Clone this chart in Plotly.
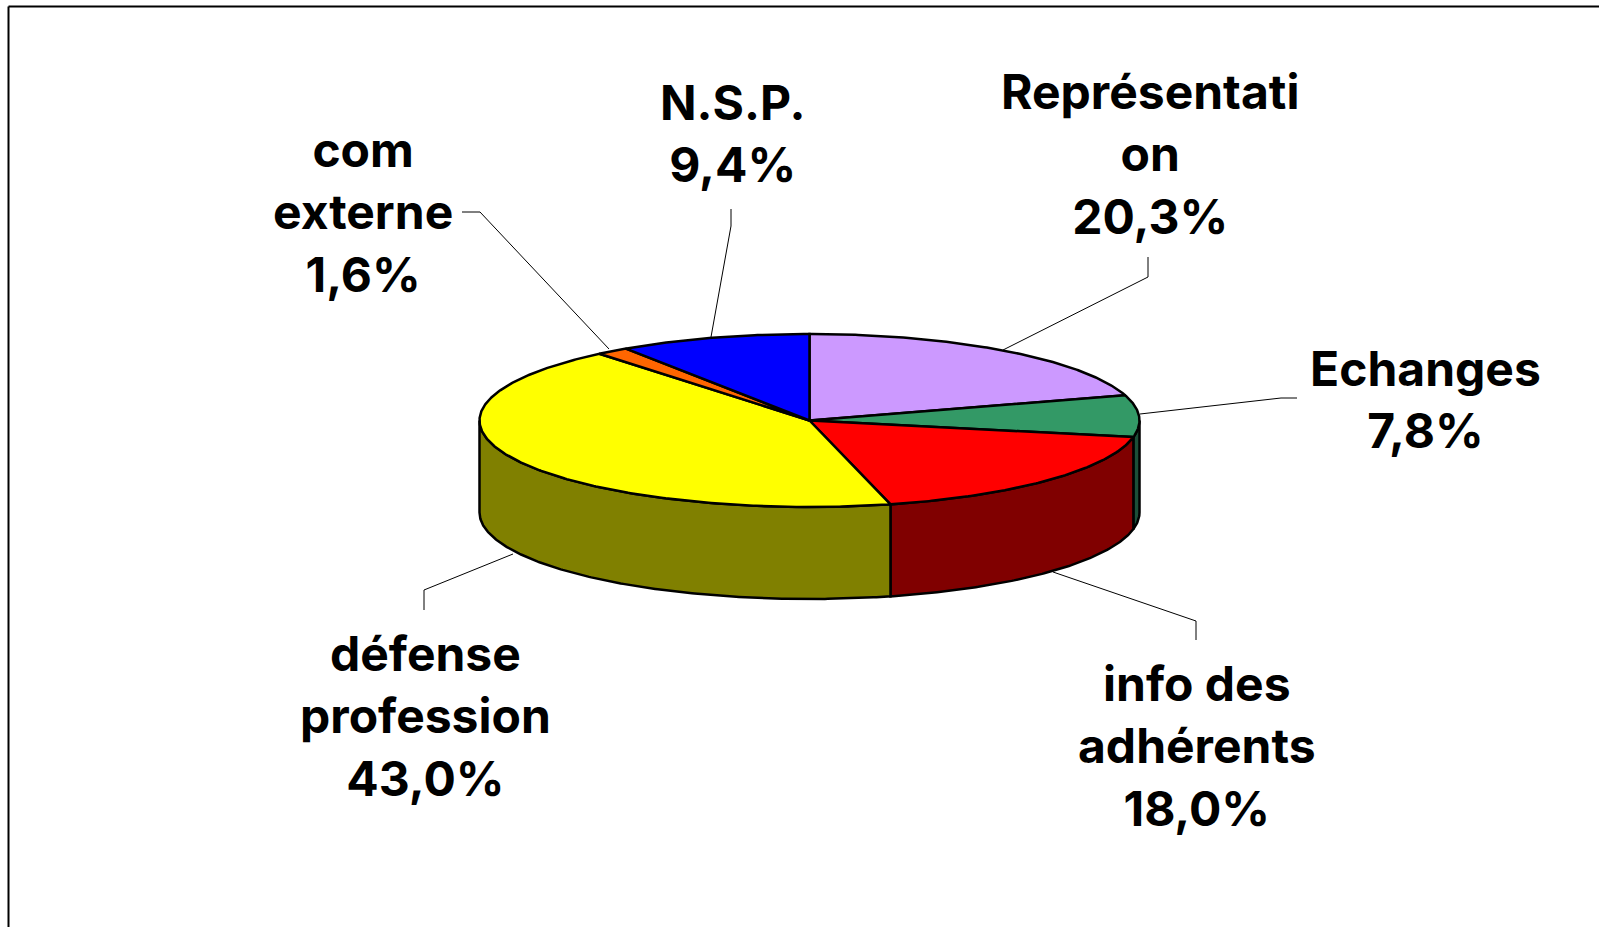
import numpy as np
import plotly.graph_objects as go

# Data, clockwise from 12 o'clock
categories = ["Représentation", "Echanges", "info des adhérents", "défense profession", "com externe", "N.S.P."]
values = [20.3, 7.8, 18.0, 43.0, 1.6, 9.4]
value_labels = ["20,3%", "7,8%", "18,0%", "43,0%", "1,6%", "9,4%"]
label_names = ["Représentati<br>on", "Echanges", "info des<br>adhérents", "défense<br>profession", "com<br>externe", "N.S.P."]
top_colors = ["#CC99FF", "#339966", "#FF0000", "#FFFF00", "#FF6600", "#0000FF"]
side_colors = ["#66507F", "#1C4F38", "#800000", "#808000", "#803300", "#00007F"]

# Layout (pixels)
W, H = 1599, 927
CX, CY, RX, RY, DEPTH = 809.5, 420.5, 330, 86.5, 92
FONT = "Inter"
FONT_SIZE = 48
LINE_W = 2.5
label_pos = [(1150, 154), (1425, 399), (1197, 746), (425, 716), (363, 212), (733, 133)]
leaders = [
    [(1148, 257), (1148, 277), (1003, 350)],
    [(1297, 398), (1281, 398), (1140, 414)],
    [(1196, 640), (1196, 621), (1053, 572)],
    [(424, 610), (424, 590), (513, 554)],
    [(462, 212), (480, 212), (609, 349)],
    [(731, 209), (731, 226), (711, 337)],
]


def arc(a0, a1, dy=0.0):
    t = np.radians(np.linspace(a0, a1, max(2, int(abs(a1 - a0) * 2) + 1)))
    return CX + RX * np.sin(t), CY + dy - RY * np.cos(t)


total = sum(values)
edges = np.concatenate([[0.0], np.cumsum(values) / total * 360.0])

fig = go.Figure()

# Visible outer wall: lower half of the ellipse only
for i, color in enumerate(side_colors):
    a0, a1 = max(edges[i], 90.0), min(edges[i + 1], 270.0)
    if a1 <= a0:
        continue
    xt, yt = arc(a0, a1)
    xb, yb = arc(a1, a0, DEPTH)
    fig.add_trace(go.Scatter(
        x=np.r_[xt, xb, xt[0]], y=np.r_[yt, yb, yt[0]], mode="lines", fill="toself",
        fillcolor=color, line=dict(color="black", width=LINE_W), hoverinfo="skip", showlegend=False))

# Top face slices
for i, color in enumerate(top_colors):
    xa, ya = arc(edges[i], edges[i + 1])
    fig.add_trace(go.Scatter(
        x=np.r_[CX, xa, CX], y=np.r_[CY, ya, CY], mode="lines", fill="toself",
        fillcolor=color, line=dict(color="black", width=LINE_W), name=categories[i],
        text=f"{categories[i]} {value_labels[i]}", hoverinfo="text", showlegend=False))

# Leader lines
for pts in leaders:
    fig.add_trace(go.Scatter(
        x=[p[0] for p in pts], y=[p[1] for p in pts], mode="lines",
        line=dict(color="black", width=1), hoverinfo="skip", showlegend=False))

# Labels
for (x, y), name, val in zip(label_pos, label_names, value_labels):
    fig.add_annotation(
        x=x, y=y, xref="x", yref="y", text=f"<b>{name}<br>{val}</b>", showarrow=False,
        align="center", xanchor="center", yanchor="middle",
        font=dict(family=FONT, size=FONT_SIZE, color="black"))

# Frame: only the top and left sides fall inside the picture
fig.add_shape(type="line", x0=8.5, x1=W, y0=6.5, y1=6.5, line=dict(color="black", width=2), layer="below")
fig.add_shape(type="line", x0=8.5, x1=8.5, y0=6.5, y1=H, line=dict(color="black", width=2), layer="below")

fig.update_xaxes(range=[0, W], visible=False, fixedrange=True)
fig.update_yaxes(range=[H, 0], visible=False, fixedrange=True)
fig.update_layout(width=W, height=H, margin=dict(l=0, r=0, t=0, b=0), autosize=False,
                  paper_bgcolor="white", plot_bgcolor="white", showlegend=False)

fig.write_html("out.html", config={"displayModeBar": False},
               post_script="document.body.style.margin='0';document.body.style.overflow='hidden';")
